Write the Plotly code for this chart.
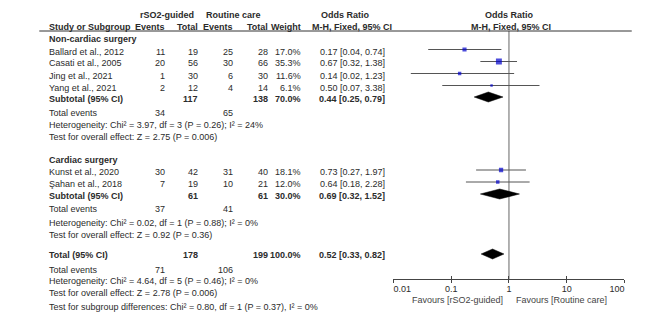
import plotly.graph_objects as go
import math

# page body has an 8px margin on every side, so the figure is drawn offset by (8, 8);
# keep the figure small enough that the page never overflows the 669x330 window
PAGE_OFF = 8
W, H = 669 - 2 * PAGE_OFF, 330 - 2 * PAGE_OFF

# ---------------- data ----------------
studies = ["Ballard et al., 2012", "Casati et al., 2005", "Jing et al., 2021",
           "Yang et al., 2021", "Kunst et al., 2020", "Şahan et al., 2018"]
exp_events = [11, 20, 1, 2, 30, 7]
exp_total = [19, 56, 30, 12, 42, 19]
ctl_events = [25, 30, 6, 4, 31, 10]
ctl_total = [28, 66, 30, 14, 40, 21]
weights = [17.0, 35.3, 11.6, 6.1, 18.1, 12.0]
or_est = [0.17, 0.67, 0.14, 0.50, 0.73, 0.64]
or_lo = [0.04, 0.32, 0.02, 0.07, 0.27, 0.18]
or_hi = [0.74, 1.38, 1.23, 3.38, 1.97, 2.28]

sub_names = ["Non-cardiac surgery", "Cardiac surgery"]
sub_exp_total = [117, 61]
sub_ctl_total = [138, 61]
sub_weight = [70.0, 30.0]
sub_or = [0.44, 0.69]
sub_lo = [0.25, 0.32]
sub_hi = [0.79, 1.52]
sub_exp_events = [34, 37]
sub_ctl_events = [65, 41]
sub_het = ["Heterogeneity: Chi² = 3.97, df = 3 (P = 0.26); I² = 24%",
           "Heterogeneity: Chi² = 0.02, df = 1 (P = 0.88); I² = 0%"]
sub_test = ["Test for overall effect: Z = 2.75 (P = 0.006)",
            "Test for overall effect: Z = 0.92 (P = 0.36)"]

tot_exp_total = 178
tot_ctl_total = 199
tot_weight = 100.0
tot_or = 0.52
tot_lo = 0.33
tot_hi = 0.82
tot_exp_events = 71
tot_ctl_events = 106
tot_het = "Heterogeneity: Chi² = 4.64, df = 5 (P = 0.46); I² = 0%"
tot_test = "Test for overall effect: Z = 2.78 (P = 0.006)"
subgroup_test = "Test for subgroup differences: Chi² = 0.80, df = 1 (P = 0.37), I² = 0%"

tick_vals = [0.01, 0.1, 1, 10, 100]
tick_text = ["0.01", "0.1", "1", "10", "100"]
favours_left = "Favours [rSO2-guided]"
favours_right = "Favours [Routine care]"

# ---------------- layout (screen pixel rows) ----------------
study_text_y = [51.5, 63, 75.5, 87.5, 171.5, 184]
study_mark_y = [49.5, 61.5, 73.5, 85.5, 170, 182]
group_title_y = [39, 160.5]
sub_text_y = [99, 195.5]
sub_mark_y = [97, 194]
sub_events_y = [112.5, 209]
sub_het_y = [125, 222.5]
sub_test_y = [136.5, 235]
tot_text_y = 255
tot_mark_y = 254
tot_events_y = 270
tot_het_y = 281
tot_test_y = 292.5
subgroup_test_y = 306.5

AX_TOP, AX_BOT = 31, 279
X_LEFT, X_RIGHT = 395, 638.3

TXT = "#2b2b2b"
FONT = "Liberation Sans, Arial, sans-serif"

COL_LABEL = 30
COL_EE = 157
COL_ET = 191
COL_CE = 228
COL_CT = 265
COL_W = 300
COL_OR = 388


def fx(x):
    return (x - PAGE_OFF) / W


def fy(y):
    return 1 - (y - PAGE_OFF) / H


fig = go.Figure()

cx, cy = [], []
for lo, hi, y in zip(or_lo, or_hi, study_mark_y):
    cx += [lo, hi, None]
    cy += [y, y, None]
fig.add_trace(go.Scatter(x=cx, y=cy, mode="lines",
                         line=dict(color="#555555", width=1),
                         hoverinfo="skip", showlegend=False))
fig.add_trace(go.Scatter(x=or_est, y=study_mark_y, mode="markers",
                         marker=dict(symbol="square", color="#0000cc",
                                     size=[math.sqrt(w) for w in weights],
                                     line=dict(width=0)),
                         showlegend=False))


def diamond(est, lo, hi, y, h=5):
    fig.add_trace(go.Scatter(x=[lo, est, hi, est, lo], y=[y, y - h, y, y + h, y],
                             mode="lines", fill="toself", fillcolor="black",
                             line=dict(color="black", width=0.5),
                             hoverinfo="skip", showlegend=False))


for i in range(2):
    diamond(sub_or[i], sub_lo[i], sub_hi[i], sub_mark_y[i])
diamond(tot_or, tot_lo, tot_hi, tot_mark_y)

ann = []


def txt(x, y, s, anchor="left", bold=False, color=TXT, size=9):
    if bold:
        s = "<b>" + s + "</b>"
    ann.append(dict(x=fx(x), y=fy(y), xref="paper", yref="paper",
                    text=s, showarrow=False, xanchor=anchor, yanchor="middle",
                    font=dict(family=FONT, size=size, color=color)))


txt(156, 15, "rSO2-guided", "center", True)
txt(227, 15, "Routine care", "center", True)
txt(344, 15, "Odds Ratio", "center", True)
txt(517, 15, "Odds Ratio", "center", True)
txt(COL_LABEL, 27, "Study or Subgroup", "left", True)
txt(COL_EE, 27, "Events", "right", True)
txt(COL_ET, 27, "Total", "right", True)
txt(COL_CE, 27, "Events", "right", True)
txt(COL_CT, 27, "Total", "right", True)
txt(COL_W, 27, "Weight", "right", True)
txt(351, 27, "M-H, Fixed, 95% CI", "center", True)
txt(519, 27, "M-H, Fixed, 95% CI", "center", True)

for g in range(2):
    txt(COL_LABEL, group_title_y[g], sub_names[g], "left", True)

for i, s in enumerate(studies):
    y = study_text_y[i]
    txt(COL_LABEL, y, s)
    txt(COL_EE, y, str(exp_events[i]), "right")
    txt(COL_ET, y, str(exp_total[i]), "right")
    txt(COL_CE, y, str(ctl_events[i]), "right")
    txt(COL_CT, y, str(ctl_total[i]), "right")
    txt(COL_W, y, f"{weights[i]:.1f}%", "right")
    txt(COL_OR, y, f"{or_est[i]:.2f} [{or_lo[i]:.2f}, {or_hi[i]:.2f}]", "right")

for g in range(2):
    y = sub_text_y[g]
    txt(COL_LABEL, y, "Subtotal (95% CI)", "left", True)
    txt(COL_ET, y, str(sub_exp_total[g]), "right", True)
    txt(COL_CT, y, str(sub_ctl_total[g]), "right", True)
    txt(COL_W, y, f"{sub_weight[g]:.1f}%", "right", True)
    txt(COL_OR, y, f"{sub_or[g]:.2f} [{sub_lo[g]:.2f}, {sub_hi[g]:.2f}]", "right", True)
    txt(COL_LABEL, sub_events_y[g], "Total events")
    txt(COL_EE, sub_events_y[g], str(sub_exp_events[g]), "right")
    txt(COL_CE, sub_events_y[g], str(sub_ctl_events[g]), "right")
    txt(COL_LABEL, sub_het_y[g], sub_het[g])
    txt(COL_LABEL, sub_test_y[g], sub_test[g])

txt(COL_LABEL, tot_text_y, "Total (95% CI)", "left", True)
txt(COL_ET, tot_text_y, str(tot_exp_total), "right", True)
txt(COL_CT, tot_text_y, str(tot_ctl_total), "right", True)
txt(COL_W, tot_text_y, f"{tot_weight:.1f}%", "right", True)
txt(COL_OR, tot_text_y, f"{tot_or:.2f} [{tot_lo:.2f}, {tot_hi:.2f}]", "right", True)
txt(COL_LABEL, tot_events_y, "Total events")
txt(COL_EE, tot_events_y, str(tot_exp_events), "right")
txt(COL_CE, tot_events_y, str(tot_ctl_events), "right")
txt(COL_LABEL, tot_het_y, tot_het)
txt(COL_LABEL, tot_test_y, tot_test)
txt(COL_LABEL, subgroup_test_y, subgroup_test)

txt(512, 299.5, favours_left, "right", color="#444444")
txt(522, 299.5, favours_right, "left", color="#444444")

shapes = [
    dict(type="line", xref="paper", yref="paper", x0=fx(22), x1=fx(646),
         y0=fy(AX_TOP), y1=fy(AX_TOP), line=dict(color="#333333", width=1)),
    dict(type="line", xref="x", yref="y", x0=1, x1=1, y0=AX_TOP, y1=AX_BOT,
         line=dict(color="#999999", width=1.5), layer="below"),
]

# end labels sit inside the axis (first one starts at its tick, last ends at its tick)
NB = "\u00a0"
axis_ticktext = [NB * 7 + tick_text[0]] + tick_text[1:-1] + [tick_text[-1] + NB * 6]

xdom = [fx(X_LEFT), fx(X_RIGHT)]
fig.update_layout(
    width=W, height=H, margin=dict(l=0, r=0, t=0, b=0),
    paper_bgcolor="white", plot_bgcolor="rgba(0,0,0,0)",
    showlegend=False,
    annotations=ann, shapes=shapes,
    xaxis=dict(type="log", range=[-2, 2], domain=xdom, anchor="y",
               showline=True, linecolor="#444444", linewidth=1,
               ticks="outside", ticklen=3, tickcolor="#444444", tickwidth=1,
               tickvals=tick_vals, ticktext=axis_ticktext,
               ticklabelstandoff=-2,
               tickfont=dict(family=FONT, size=9, color=TXT),
               showgrid=False, zeroline=False),
    xaxis2=dict(type="log", range=[-2, 2], domain=xdom, anchor="y",
                overlaying="x", showline=False, ticks="inside", ticklen=3,
                tickcolor="#444444", tickwidth=1, tickvals=tick_vals,
                showticklabels=False, showgrid=False, zeroline=False),
    yaxis=dict(domain=[fy(AX_BOT), fy(AX_TOP)],
               range=[AX_BOT, AX_TOP], visible=False, fixedrange=True),
)
fig.add_trace(go.Scatter(x=[1], y=[AX_BOT], xaxis="x2", yaxis="y", mode="markers",
                         marker=dict(opacity=0), hoverinfo="skip", showlegend=False))

fig.write_html("out.html")
